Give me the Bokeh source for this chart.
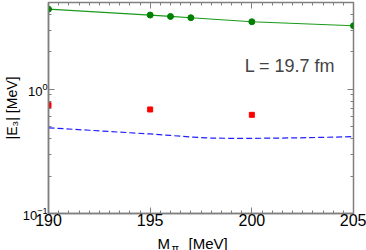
from bokeh.plotting import figure
from bokeh.layouts import column
from bokeh.models import (FixedTicker, Label, LinearAxis, LogAxis, Range1d,
                          LogTickFormatter, CustomJSTickFormatter)
from bokeh.core.properties import value
from bokeh.embed import file_html
from bokeh.resources import INLINE

# data
mpi_green = [190, 195, 196, 197, 200, 205]
e3_green = [4.42, 3.96, 3.86, 3.77, 3.50, 3.25]
mpi_red = [190, 195, 200]
e3_red = [0.745, 0.688, 0.623]
mpi_blue = [190, 192, 194, 195, 196, 197, 198, 199, 200, 202, 204, 205]
e3_blue = [0.49, 0.468, 0.447, 0.437, 0.425, 0.413, 0.405, 0.403, 0.403, 0.406, 0.412, 0.416]
x_major = [190, 195, 200, 205]
x_minor = [190 + 0.5 * i for i in range(31)]
y_major = [0.1, 1.0]
y_minor = [0.2, 0.3, 0.4, 0.5, 0.6, 0.7, 0.8, 0.9, 2, 3, 4, 5]

FONT = "Liberation Sans"
GREY = "#7f7f7f"

p = figure(width=366, height=231, output_backend="svg", toolbar_location=None,
           y_axis_type="log", x_range=Range1d(190, 205), y_range=Range1d(0.1, 5.0),
           min_border_left=48, min_border_right=13, min_border_top=2, min_border_bottom=18,
           margin=0)
p.grid.visible = False
p.outline_line_color = GREY
p.outline_line_width = 1.5
p.background_fill_color = "white"
p.border_fill_color = "white"

p.line(mpi_green, e3_green, line_color="#1a9a1a", line_width=1.2)
p.scatter(mpi_green, e3_green, size=6, color="#008000", marker="circle")
p.scatter(mpi_red, e3_red, size=5, color="#ff0000", marker="square")
p.line(mpi_blue, e3_blue, line_color="#2020ff", line_width=1.2, line_dash="6 3")

xa = p.xaxis[0]
xa.ticker = FixedTicker(ticks=x_major, minor_ticks=x_minor)
ya = p.yaxis[0]
ya.ticker = FixedTicker(ticks=y_major, minor_ticks=y_minor)
ya.formatter = LogTickFormatter()
for ax in (xa, ya):
    ax.axis_line_color = GREY
    ax.axis_line_width = 1.5
    ax.major_tick_in = 6
    ax.major_tick_out = 0
    ax.minor_tick_in = 3
    ax.minor_tick_out = 0
    ax.major_tick_line_color = GREY
    ax.minor_tick_line_color = GREY
    ax.major_label_text_font = FONT
    ax.major_label_text_color = "black"

xa.major_label_text_font_size = "16px"
xa.major_label_standoff = 0
ya.major_label_text_font_size = "13px"
ya.major_label_standoff = 1
ya.axis_label = "|E\u2083| [MeV]"
ya.axis_label_text_font = FONT
ya.axis_label_text_font_size = "14px"
ya.axis_label_text_font_style = "normal"
ya.axis_label_text_color = "black"
ya.axis_label_standoff = 0

# top and right axes for ticks only
blank = CustomJSTickFormatter(code="return ''")
top = LinearAxis(ticker=FixedTicker(ticks=x_major, minor_ticks=x_minor), formatter=blank)
right = LogAxis(ticker=FixedTicker(ticks=y_major, minor_ticks=y_minor), formatter=blank)
for ax in (top, right):
    ax.axis_line_color = None
    ax.major_tick_in = 6
    ax.major_tick_out = 0
    ax.minor_tick_in = 3
    ax.minor_tick_out = 0
    ax.major_tick_line_color = GREY
    ax.minor_tick_line_color = GREY
    ax.major_label_standoff = 0
p.add_layout(top, "above")
p.add_layout(right, "right")

p.add_layout(Label(x=199.65, y=1.53, text="L = 19.7 fm", text_font=FONT,
                   text_font_size="18px", text_align="left", text_baseline="alphabetic"))

# x-axis title strip under the plot, sharing the x range: M_pi [MeV]
q = figure(width=366, height=19, output_backend="svg", toolbar_location=None,
           x_range=p.x_range, y_range=Range1d(0, 19),
           min_border_left=48, min_border_right=13, min_border_top=0, min_border_bottom=0,
           x_axis_type=None, y_axis_type=None, margin=0)
q.grid.visible = False
q.outline_line_color = None
q.text(x=[195.36], y=[7], text=["M"], text_font=value(FONT), text_font_size="15px",
       text_baseline="alphabetic", text_align="left", text_color="black")
q.text(x=[196.05], y=[3], text=["\u03c0"], text_font=value(FONT), text_font_size="11px",
       text_baseline="alphabetic", text_align="left", text_color="black")
q.text(x=[196.89], y=[7], text=["[MeV]"], text_font=value(FONT), text_font_size="15px",
       text_baseline="alphabetic", text_align="left", text_color="black")

layout = column(p, q, spacing=0, margin=0)
open("out.html", "w").write(file_html(layout, INLINE))
